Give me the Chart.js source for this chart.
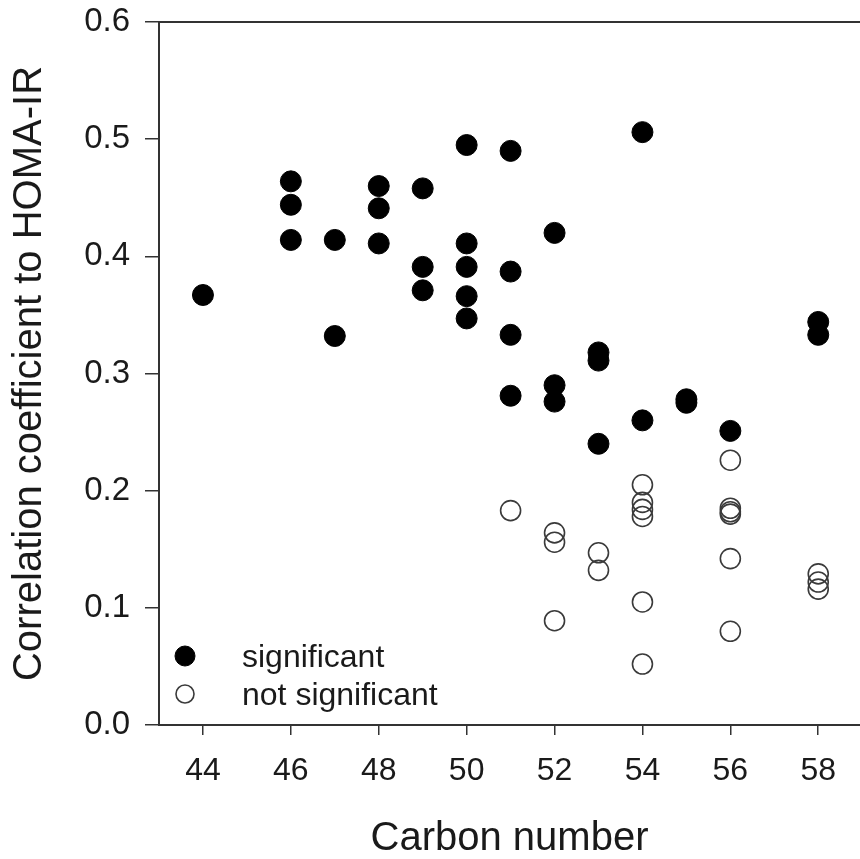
<!DOCTYPE html>
<html>
<head>
<meta charset="utf-8">
<script src="https://cdn.jsdelivr.net/npm/chart.js@4/dist/chart.umd.min.js"></script>
<style>
  body { margin: 0; background: #fff; }
  #wrap { width: 860px; height: 859px; }
</style>
</head>
<body>
<div id="wrap"><canvas id="scatter" width="860" height="859"></canvas></div>
<script>
    // values
    const sigCarbon = [44, 46, 46, 46, 47, 47, 48, 48, 48, 49, 49, 49,
        50, 50, 50, 50, 50, 51, 51, 51, 51, 52, 52, 52, 53, 53, 53,
        54, 54, 55, 55, 56, 58, 58];
    const sigCorr = [0.367, 0.464, 0.444, 0.414, 0.414, 0.332, 0.460, 0.441, 0.411, 0.458, 0.391, 0.371,
        0.495, 0.411, 0.391, 0.366, 0.347, 0.490, 0.387, 0.333, 0.281, 0.420, 0.290, 0.276, 0.318, 0.311, 0.240,
        0.506, 0.260, 0.278, 0.275, 0.251, 0.344, 0.333];

    const nsCarbon = [51, 52, 52, 52, 53, 53, 54, 54, 54, 54, 54, 54,
        56, 56, 56, 56, 56, 56, 58, 58, 58];
    const nsCorr = [0.183, 0.164, 0.156, 0.089, 0.147, 0.132, 0.205, 0.190, 0.184, 0.178, 0.105, 0.052,
        0.226, 0.185, 0.182, 0.180, 0.142, 0.080, 0.129, 0.122, 0.116];

    const xTicks = [44, 46, 48, 50, 52, 54, 56, 58];
    const yTicks = [0, 0.1, 0.2, 0.3, 0.4, 0.5, 0.6];

    const axisColor = '#333';
    const textColor = '#1a1a1a';
    const fontFamily = 'Arial, "Liberation Sans", sans-serif';

    function toPoints(xs, ys) {
        return xs.map((x, i) => ({ x: x, y: ys[i] }));
    }

    // legend inside the plot, bottom left, plus the top frame line
    const innerLegend = {
        id: 'innerLegend',
        afterDraw(chart) {
            const ctx = chart.ctx;
            const area = chart.chartArea;
            ctx.save();
            ctx.strokeStyle = axisColor;
            ctx.lineWidth = 2;
            ctx.beginPath();
            ctx.moveTo(area.left, area.top);
            ctx.lineTo(area.right, area.top);
            ctx.stroke();

            const rows = [656, 694];
            ctx.font = '32px ' + fontFamily;
            ctx.textBaseline = 'middle';
            chart.data.datasets.forEach((ds, i) => {
                const y = rows[i];
                ctx.beginPath();
                ctx.arc(185, y, i === 0 ? 10 : 9, 0, Math.PI * 2);
                if (ds.backgroundColor !== 'transparent') {
                    ctx.fillStyle = ds.backgroundColor;
                    ctx.fill();
                }
                ctx.lineWidth = ds.borderWidth;
                ctx.strokeStyle = ds.borderColor;
                ctx.stroke();
                ctx.fillStyle = textColor;
                ctx.fillText(ds.label, 242, y + 2);
            });
            ctx.restore();
        }
    };

    const ctx = document.getElementById('scatter').getContext('2d');
    const chart = new Chart(ctx, {
        type: 'scatter',
        data: {
            datasets: [{
                label: 'significant',
                data: toPoints(sigCarbon, sigCorr),
                backgroundColor: '#000',
                borderColor: '#000',
                borderWidth: 1,
                pointRadius: 10.5
            }, {
                label: 'not significant',
                data: toPoints(nsCarbon, nsCorr),
                backgroundColor: 'transparent',
                borderColor: '#3a3a3a',
                borderWidth: 1.6,
                pointRadius: 10
            }]
        },
        options: {
            responsive: false,
            animation: false,
            layout: { autoPadding: false, padding: { top: 22, left: 0, right: 0, bottom: 0 } },
            plugins: {
                legend: { display: false },
                tooltip: { enabled: false }
            },
            scales: {
                x: {
                    type: 'linear',
                    min: 43,
                    max: 58.95,
                    afterBuildTicks: (scale) => { scale.ticks = xTicks.map(v => ({ value: v })); },
                    afterFit: (scale) => {
                        scale.height = 134;
                        scale.paddingLeft = 0;
                        scale.paddingRight = 0;
                    },
                    border: { display: true, color: axisColor, width: 2 },
                    grid: { drawOnChartArea: false, drawTicks: true, tickLength: 10, color: axisColor, lineWidth: 1.5 },
                    ticks: {
                        color: textColor,
                        font: { family: fontFamily, size: 32 },
                        padding: 17,
                        maxRotation: 0,
                        callback: (v) => String(v)
                    },
                    title: {
                        display: true,
                        text: 'Carbon number',
                        color: textColor,
                        font: { family: fontFamily, size: 40, lineHeight: 1 },
                        padding: { top: 0, bottom: 0 }
                    }
                },
                y: {
                    type: 'linear',
                    min: 0,
                    max: 0.6,
                    afterBuildTicks: (scale) => { scale.ticks = yTicks.map(v => ({ value: v })); },
                    afterFit: (scale) => {
                        scale.width = 159;
                        scale.paddingTop = 0;
                        scale.paddingBottom = 0;
                    },
                    border: { display: true, color: axisColor, width: 2 },
                    grid: { drawOnChartArea: false, drawTicks: true, tickLength: 14, color: axisColor, lineWidth: 1.5 },
                    ticks: {
                        color: textColor,
                        font: { family: fontFamily, size: 33 },
                        padding: 15,
                        callback: (v) => v.toFixed(1)
                    },
                    title: {
                        display: true,
                        text: 'Correlation coefficient to HOMA-IR',
                        color: textColor,
                        font: { family: fontFamily, size: 40, lineHeight: 1 },
                        padding: { top: 10, bottom: 0 }
                    }
                }
            }
        },
        plugins: [innerLegend]
    });
</script>
</body>
</html>
